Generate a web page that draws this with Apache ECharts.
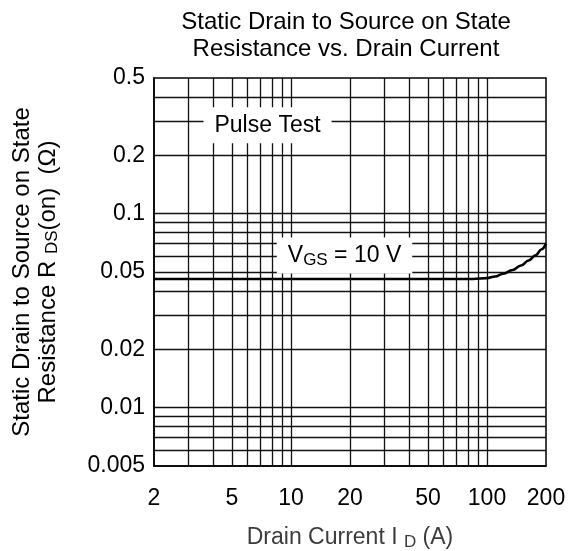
<!DOCTYPE html>
<html>
<head>
<meta charset="utf-8">
<script src="https://cdn.jsdelivr.net/npm/echarts@6/dist/echarts.min.js"></script>
<style>
html,body{margin:0;padding:0;background:#fff;}
#chart{width:569px;height:551px;}
</style>
</head>
<body>
<div id="chart"></div>
<script>
// ---- data ----
const xLabelValues = [2, 5, 10, 20, 50, 100, 200];
const xLabelTexts = ['2', '5', '10', '20', '50', '100', '200'];
const xGridValues = [3, 4, 5, 6, 7, 8, 9, 10, 20, 30, 40, 50, 60, 70, 80, 90, 100];
const yLabelValues = [0.005, 0.01, 0.02, 0.05, 0.1, 0.2, 0.5];
const yLabelTexts = ['0.005', '0.01', '0.02', '0.05', '0.1', '0.2', '0.5'];
const yGridValues = [0.006, 0.007, 0.008, 0.009, 0.01, 0.02, 0.03, 0.04, 0.05, 0.06, 0.07, 0.08, 0.09, 0.1, 0.2, 0.3, 0.4];
const drainCurrent = [2, 10, 50, 85, 100, 110, 121, 135, 149, 163, 177, 190, 200];
const rdsOn = [0.046, 0.046, 0.046, 0.046, 0.0465, 0.0474, 0.049, 0.0512, 0.054, 0.0573, 0.061, 0.0655, 0.070];
const annotations = [
  { text: 'Pulse Test', x: 7.59, y: 0.285 },
  { text: 'V{sub|GS} = 10 V', x: 18.75, y: 0.0608 }
];

function labelFor(values, texts) {
  return function (v) {
    for (let i = 0; i < values.length; i++) {
      if (Math.abs(Math.log(v) - Math.log(values[i])) < 1e-6) return texts[i];
    }
    return '';
  };
}

const FONT = '"Liberation Sans", Arial, Helvetica, sans-serif';
const chart = echarts.init(document.getElementById('chart'), null, { renderer: 'canvas' });

chart.setOption({
  animation: false,
  backgroundColor: '#fff',
  textStyle: { fontFamily: FONT },
  title: {
    text: 'Static Drain to Source on State\nResistance vs. Drain Current',
    left: 346,
    top: 9,
    padding: 0,
    textAlign: 'center',
    textStyle: { fontFamily: FONT, fontSize: 24, fontWeight: 'normal', color: '#000', lineHeight: 27 }
  },
  grid: {
    left: 154, right: 23, top: 78, bottom: 85,
    containLabel: false,
    outerBoundsMode: 'none',
    show: true, borderColor: '#000', borderWidth: 1.5, backgroundColor: 'transparent'
  },
  xAxis: {
    type: 'log', logBase: 10, min: 2, max: 200,
    name: 'Drain Current I {sub|D} (A)',
    nameLocation: 'middle', nameGap: 58,
    nameTextStyle: {
      fontFamily: FONT, fontSize: 23, color: '#3c3c3c', lineHeight: 27,
      rich: { sub: { fontFamily: FONT, fontSize: 17, color: '#3c3c3c', verticalAlign: 'bottom', lineHeight: 18 } }
    },
    axisLine: { show: true, lineStyle: { color: '#000', width: 1.5 } },
    axisTick: { show: false, customValues: xGridValues },
    axisLabel: {
      customValues: xLabelValues,
      formatter: labelFor(xLabelValues, xLabelTexts),
      fontFamily: FONT, fontSize: 23, color: '#000', margin: 21
    },
    splitLine: { show: true, lineStyle: { color: '#111', width: 1.3 } },
    minorTick: { show: false }, minorSplitLine: { show: false }
  },
  yAxis: {
    type: 'log', logBase: 10, min: 0.005, max: 0.5,
    name: 'Static Drain to Source on State\nResistance R {sub|DS}(on)  (Ω)',
    nameLocation: 'middle', nameRotate: 90, nameGap: 93,
    nameTextStyle: {
      fontFamily: FONT, fontSize: 24, color: '#000', lineHeight: 26,
      rich: { sub: { fontFamily: FONT, fontSize: 17, color: '#000', verticalAlign: 'bottom', lineHeight: 17 } }
    },
    axisLine: { show: true, lineStyle: { color: '#000', width: 1.5 } },
    axisTick: { show: false, customValues: yGridValues },
    axisLabel: {
      customValues: yLabelValues,
      formatter: labelFor(yLabelValues, yLabelTexts),
      fontFamily: FONT, fontSize: 23, color: '#000', margin: 9
    },
    splitLine: { show: true, lineStyle: { color: '#111', width: 1.3 } }
  },
  series: [
    {
      type: 'line',
      data: drainCurrent.map((x, i) => [x, rdsOn[i]]),
      showSymbol: false,
      symbol: 'none',
      smooth: 0.4,
      smoothMonotone: 'x',
      lineStyle: { color: '#000', width: 2.6 },
      z: 3,
      markPoint: {
        symbol: 'rect',
        symbolSize: 1,
        itemStyle: { color: 'rgba(0,0,0,0)' },
        z: 10,
        label: {
          show: true,
          position: 'inside',
          fontFamily: FONT, fontSize: 23, color: '#000',
          backgroundColor: '#fff',
          padding: [5, 11, 5, 11],
          lineHeight: 26,
          rich: { sub: { fontFamily: FONT, fontSize: 17, color: '#000', verticalAlign: 'bottom', lineHeight: 18 } },
          formatter: function (p) { return p.name; }
        },
        data: annotations.map(a => ({ name: a.text, coord: [a.x, a.y] }))
      }
    }
  ]
});
</script>
</body>
</html>
